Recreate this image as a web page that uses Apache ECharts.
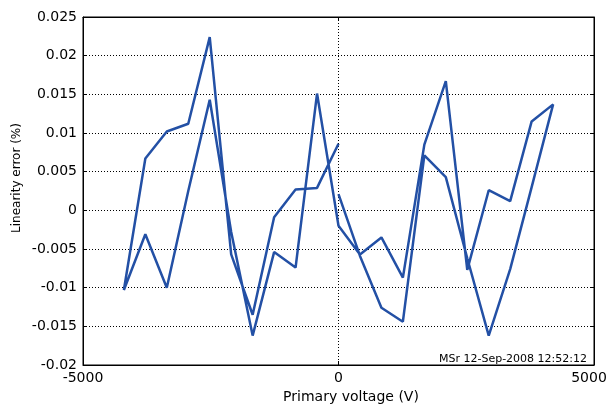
<!DOCTYPE html>
<html>
<head>
<meta charset="utf-8">
<script src="https://cdn.jsdelivr.net/npm/echarts@6/dist/echarts.min.js"></script>
<style>html,body{margin:0;padding:0;background:#fff}#c{width:610px;height:407px}</style>
</head>
<body>
<div id="c"></div>
<script>
// Sweep 1: 0 V up to +4200 V
const voltUp1 = [0, 420, 840, 1260, 1680, 2100, 2520, 2940, 3360, 3780, 4200];
const errUp1 = [0.0021, -0.0059, -0.0126, -0.0144, 0.0071, 0.0043, -0.0062, -0.0162, -0.0076, 0.0030, 0.0137];
// Sweep 2: +4200 V down to -4200 V
const voltDown = [3780, 3360, 2940, 2520, 2100, 1680, 1260, 840, 420, 0, -420, -840, -1260, -1680, -2100, -2520, -2940, -3360, -3780, -4200];
const errDown = [0.0115, 0.0012, 0.0026, -0.0077, 0.0167, 0.0085, -0.0087, -0.0035, -0.0057, -0.0020, 0.0151, -0.0074, -0.0054, -0.0162, -0.0028, 0.0143, 0.0025, -0.0100, -0.0031, -0.0103];
// Sweep 3: -4200 V back up to 0 V
const voltUp2 = [-3780, -3360, -2940, -2520, -2100, -1680, -1260, -840, -420, 0];
const errUp2 = [0.0067, 0.0102, 0.0112, 0.0224, -0.0057, -0.0135, -0.0009, 0.0027, 0.0029, 0.0086];

const xTicks = [-5000, 0, 5000];
const yTickStep = 0.005;
const xTitle = 'Primary voltage (V)';
const yTitle = 'Linearity error (%)';
const stampText = 'MSr 12-Sep-2008 12:52:12';

const pts = [];
[[voltUp1, errUp1], [voltDown, errDown], [voltUp2, errUp2]].forEach(([vx, vy]) => {
  vx.forEach((v, i) => pts.push([v, vy[i]]));
});

const FONT = 'DejaVu Sans';
const chart = echarts.init(document.getElementById('c'), null, {renderer: 'canvas'});
const gridLine = {show: true, lineStyle: {color: '#000', type: [1, 2], width: 1}};
const tickStyle = {show: true, inside: true, length: 4, lineStyle: {color: '#000'}};
chart.setOption({
  animation: false,
  grid: {left: 83, right: 16, top: 17, bottom: 42, show: true, borderColor: '#000', borderWidth: 1},
  xAxis: [{
    type: 'value', min: xTicks[0], max: xTicks[2], interval: 5000,
    axisLine: {show: true, onZero: false, lineStyle: {color: '#000'}},
    axisTick: tickStyle,
    axisLabel: {fontFamily: FONT, fontSize: 14, color: '#000', margin: 6,
      formatter: v => v === xTicks[2] ? '{r|' + v + '}' : String(v),
      rich: {r: {fontFamily: FONT, fontSize: 14, color: '#000', padding: [0, 10, 0, 0]}}},
    splitLine: gridLine
  }, {
    type: 'value', position: 'top', min: xTicks[0], max: xTicks[2], interval: 5000,
    axisLine: {show: true, onZero: false, lineStyle: {color: '#000'}},
    axisTick: tickStyle,
    axisLabel: {show: false}, splitLine: {show: false}
  }],
  yAxis: [{
    type: 'value', min: -0.02, max: 0.025, interval: yTickStep,
    axisLine: {show: true, onZero: false, lineStyle: {color: '#000'}},
    axisTick: tickStyle,
    axisLabel: {fontFamily: FONT, fontSize: 14, color: '#000', margin: 6,
      formatter: v => String(+v.toFixed(3))},
    splitLine: gridLine
  }, {
    type: 'value', position: 'right', min: -0.02, max: 0.025, interval: yTickStep,
    axisLine: {show: true, onZero: false, lineStyle: {color: '#000'}},
    axisTick: tickStyle,
    axisLabel: {show: false}, splitLine: {show: false}
  }],
  series: [{
    type: 'line', data: pts, showSymbol: false, symbol: 'none',
    lineStyle: {color: '#2350a5', width: 2.5}, itemStyle: {color: '#2350a5'}
  }],
  graphic: [{
    type: 'text', x: 587, y: 359.5,
    style: {text: stampText, fontFamily: FONT, fontSize: 11, fill: '#000', align: 'right', verticalAlign: 'middle'}
  }, {
    type: 'text', x: 351, y: 397,
    style: {text: xTitle, fontFamily: FONT, fontSize: 14, fill: '#000', align: 'center', verticalAlign: 'middle'}
  }, {
    type: 'text', x: 17, y: 178, rotation: Math.PI / 2,
    style: {text: yTitle, fontFamily: FONT, fontSize: 12, fill: '#000', align: 'center', verticalAlign: 'middle'}
  }]
});
</script>
</body>
</html>
